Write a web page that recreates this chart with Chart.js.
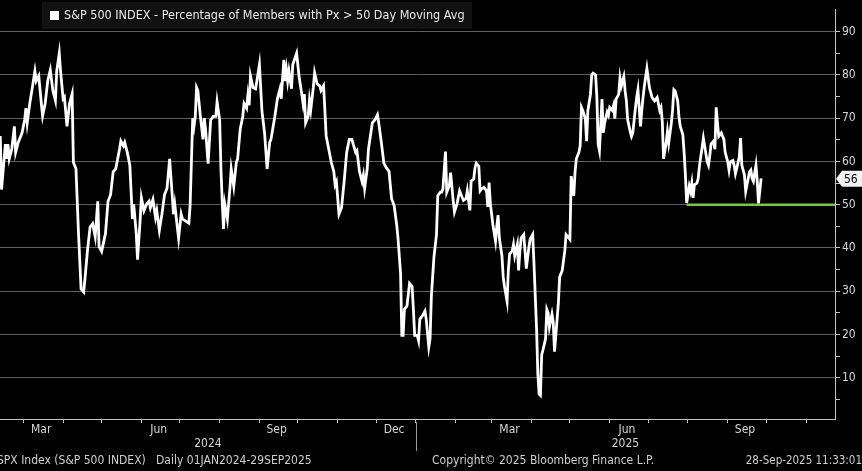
<!DOCTYPE html>
<html>
<head>
<meta charset="utf-8">
<script src="https://cdn.jsdelivr.net/npm/chart.js@4/dist/chart.umd.min.js"></script>
<style>
  html, body { margin: 0; padding: 0; background: #000; }
  canvas { display: block; }
</style>
</head>
<body>
<canvas id="chart" width="862" height="471"></canvas>
<script>
// days since 1 Jan 2024 and % of S&P 500 members above their 50-day moving average
const dayOffsets = [
  42, 43, 46, 47, 48, 49, 51, 53, 54, 56, 59, 61, 62, 63, 65, 67, 69, 70, 72, 74,
  75, 77, 79, 81, 83, 85, 86, 88, 89, 91, 92, 94, 96, 98, 99, 101, 103, 105, 107, 108,
  110, 112, 114, 116, 118, 119, 121, 124, 126, 128, 130, 132, 135, 136, 138, 139, 141, 143, 145, 146,
  148, 149, 151, 152, 154, 156, 158, 159, 161, 163, 164, 166, 168, 170, 172, 174, 176, 177, 178, 181,
  183, 184, 186, 189, 190, 192, 193, 194, 195, 196, 198, 200, 201, 202, 204, 206, 208, 210, 211, 213,
  214, 215, 216, 217, 219, 221, 222, 224, 226, 227, 229, 231, 232, 234, 235, 236, 237, 239, 241, 242,
  244, 246, 248, 250, 252, 253, 256, 258, 260, 261, 263, 264, 265, 266, 267, 269, 270, 273, 275, 277,
  278, 279, 280, 282, 283, 284, 286, 287, 289, 291, 292, 294, 295, 296, 298, 300, 302, 303, 304, 306,
  308, 310, 312, 314, 316, 319, 320, 322, 324, 325, 326, 328, 329, 332, 334, 336, 337, 339, 341, 343,
  345, 347, 349, 351, 352, 354, 355, 356, 357, 359, 361, 363, 364, 365, 367, 368, 369, 371, 373, 374,
  376, 377, 378, 380, 382, 383, 385, 386, 387, 389, 390, 392, 393, 395, 396, 398, 400, 402, 403, 405,
  406, 408, 409, 411, 412, 413, 415, 416, 417, 419, 421, 422, 423, 424, 426, 428, 429, 430, 431, 433,
  434, 435, 437, 438, 439, 441, 442, 443, 445, 446, 447, 448, 450, 451, 452, 454, 455, 457, 458, 460,
  461, 462, 463, 464, 465, 467, 468, 469, 470, 472, 473, 474, 476, 477, 478, 480, 482, 483, 486, 487,
  489, 490, 491, 493, 494, 495, 496, 498, 499, 500, 502, 503, 504, 506, 507, 508, 509, 511, 512, 513,
  515, 516, 517, 519, 520, 521, 522, 524, 525, 526, 528, 529, 530, 531, 533, 534, 535, 537, 538, 539,
  541, 542, 543, 544, 546, 547, 548, 550, 551, 552, 554, 556, 557, 558, 559, 561, 562, 563, 565, 566,
  567, 568, 570, 571, 572, 574, 575, 576, 577, 579, 580, 581, 582, 583, 585, 586, 587, 589, 590, 591,
  593, 594, 595, 596, 598, 599, 600, 601, 602, 604, 605, 606, 607, 609, 610, 611, 613, 614, 615, 616,
  618, 619, 620, 622, 623, 624, 626, 627, 628, 629, 631, 632, 633, 635
];
const pctAbove50d = [
  65.9, 53.5, 64, 60.6, 64, 60.6, 62.9, 68.1, 62.1, 64.4, 66.6, 69.6, 72.3, 68.9, 73.4, 77.1, 80.9, 78.6, 79.8, 73.4,
  70.5, 73.4, 78.6, 81.1, 76.4, 74.1, 80.9, 85, 80.9, 74.5, 74.9, 68.1, 73.4, 75.6, 59.8, 58.3, 43.3, 30.5, 29.8, 32.8,
  39.5, 44.8, 45.6, 42.6, 50.8, 40.3, 39.2, 43.3, 50.8, 52.3, 57.6, 58.3, 62.9, 64.7, 63.6, 64.4, 62.1, 59.1, 46.7, 50.1,
  43.3, 37.3, 46.3, 51.6, 48.6, 50.1, 50.8, 49.3, 51.2, 47.1, 48.6, 44.1, 47.8, 52.3, 53.8, 60.6, 52.3, 47.8, 50.1, 42.2,
  47.8, 46.7, 46.3, 45.7, 50, 70, 68.1, 70.4, 77.1, 76.4, 70.4, 65.1, 70, 67.4, 59.5, 69.6, 70.4, 70.4, 73.8, 69.6,
  58.3, 50.8, 44.4, 50.1, 46.7, 53.8, 58.3, 54.2, 59.8, 60.6, 67.4, 70.4, 73.4, 72.3, 75.3, 73, 79.8, 77.1, 76.8, 78.6,
  82.4, 71.5, 66.6, 58.3, 64.4, 65.1, 70.4, 74.5, 76.8, 74.5, 83.5, 78.6, 81.3, 78.6, 80.9, 76.8, 82.4, 85, 79.4, 75.6,
  73.4, 75.6, 68.9, 70.4, 74.1, 71.9, 77.1, 80.5, 77.9, 77.5, 76.4, 77.5, 71.9, 65.9, 62.9, 59.8, 57.6, 54.6, 55.3, 47.8,
  49.3, 55.3, 62.1, 65.1, 65.1, 62.1, 62.5, 57.6, 55.3, 56.8, 53.8, 58.3, 62.9, 68.9, 69.6, 70.8, 68.9, 64.4, 59.6, 58.5,
  57.7, 51.4, 49.8, 45.3, 42.3, 34.1, 19.8, 19.8, 25.8, 26.6, 31.8, 31.1, 25.8, 19.8, 19.8, 18.6, 23.5, 24.3, 25.4, 23.5,
  17.1, 19.0, 28.8, 37.8, 43.1, 52.1, 52.9, 52.9, 53.6, 62.3, 52.9, 54.4, 57.4, 51, 48.3, 50.2, 53.2, 51.7, 51, 51.4,
  53.2, 48.7, 55.5, 55.9, 58.5, 59.6, 58.9, 53.2, 53.6, 54, 53.2, 49.5, 55.1, 50.2, 45.3, 41.6, 45.0, 47.6, 42.3, 38.2,
  33.3, 31.1, 27.7, 34.8, 38.6, 39.3, 40.8, 38.2, 40.8, 34.8, 39.3, 42.3, 43.1, 39.3, 35.2, 40.1, 42.0, 43.1, 36.3, 21.3,
  10.8, 6.2, 5.9, 15.3, 16.4, 19.0, 25.8, 25, 21.7, 24.7, 22.8, 16.0, 23.5, 27.3, 33.3, 34.8, 39.3, 43.1, 42, 56.6,
  52, 57.6, 60.6, 62.1, 63.6, 72.5, 71.8, 69.9, 64.7, 71.8, 75.5, 80, 80.4, 80, 74.8, 64, 62.5, 74.4, 66.6, 68.8,
  71.4, 70.7, 72.5, 71.8, 72.9, 69.9, 74.4, 75.5, 79.3, 77.4, 79.6, 76.3, 74.0, 69.6, 66.9, 65.8, 66.6, 72.2, 74.8, 76.6,
  68.1, 71.8, 74.8, 77.4, 81.5, 79.3, 77, 74.8, 74.4, 74, 74.8, 71.8, 72.5, 69.2, 60.6, 64.3, 66.9, 64.3, 68.8, 71.8,
  76.6, 76.3, 74, 70.3, 68.1, 66.2, 62.1, 56.9, 50.4, 54.3, 53.1, 55.0, 51.6, 54.6, 55, 56.1, 59.1, 63.2, 65.4, 63.6,
  59.9, 59.1, 61.3, 64, 64.7, 62.8, 72.5, 68.8, 65.8, 66.6, 65.8, 65.1, 62.1, 59.9, 58, 59.9, 60.2, 59.1, 57.2, 58.4,
  61, 65.4, 59.1, 56.9, 53.1, 54.6, 57.6, 58, 56.1, 55.4, 59.1, 55.4, 50.3, 56.1
];

const supportLevel = 50;
const supportFromDay = 577;
const lastValue = 56;

const firstDay = 41.8;   // left edge of the visible window
const lastDay = 692.6;   // right edge (axis runs past the last print)
const yMin = 0.45;
const yMax = 95.2;
const yTickValues = [5, 10, 15, 20, 25, 30, 35, 40, 45, 50, 55, 60, 65, 70, 75, 80, 85, 90];

const quarterLabels = ["Mar", "Jun", "Sep", "Dec", "Mar", "Jun", "Sep"];
const quarterMonths = ["2024-03", "2024-06", "2024-09", "2024-12", "2025-03", "2025-06", "2025-09"];
const yearLabels = ["2024", "2025"];
const yearStarts = ["2024-01-01", "2025-01-01"];

const legendText = "S&P 500 INDEX - Percentage of Members with Px > 50 Day Moving Avg";
const footerLeft = "SPX Index (S&P 500 INDEX)   Daily 01JAN2024-29SEP2025";
const footerMid = "Copyright\u00a9 2025 Bloomberg Finance L.P.";
const footerRight = "28-Sep-2025 11:33:01";

const FONT = '"DejaVu Sans Condensed", "Liberation Sans Narrow", "DejaVu Sans", sans-serif';
const AXIS = "#c4c4c4";
const GRID = "#5e5e5e";
const LABEL = "#d6d6d6";

const dayOf = (iso) => (Date.parse(iso) - Date.parse("2024-01-01")) / 86400000;
const daysInMonth = (iso) => {
  const [y, m] = iso.split("-").map(Number);
  return new Date(Date.UTC(y, m, 0)).getUTCDate();
};

function monthStarts() {
  const out = [];
  for (let y = 2024; y <= 2025; y++) {
    for (let m = 0; m < 12; m++) {
      const d = (Date.UTC(y, m, 1) - Date.UTC(2024, 0, 1)) / 86400000;
      if (d > firstDay && d < lastDay) out.push(d);
    }
  }
  return out;
}

const decorations = {
  id: "decorations",
  afterDraw(chart) {
    const { ctx, chartArea, scales } = chart;
    const x = scales.x;
    const y = scales.y;
    ctx.save();

    // legend box
    ctx.fillStyle = "#111111";
    ctx.fillRect(42, 2, 430, 27);
    ctx.fillStyle = "#ffffff";
    ctx.fillRect(50, 11, 9, 9);
    ctx.fillStyle = "#e8e8e8";
    ctx.font = `12.5px ${FONT}`;
    ctx.textBaseline = "middle";
    ctx.textAlign = "left";
    ctx.fillText(legendText, 64, 16);

    // last value tag
    const py = y.getPixelForValue(lastValue);
    ctx.fillStyle = "#f2f2f2";
    ctx.beginPath();
    ctx.moveTo(chartArea.right + 1, py);
    ctx.lineTo(chartArea.right + 7, py - 8);
    ctx.lineTo(862, py - 8);
    ctx.lineTo(862, py + 8);
    ctx.lineTo(chartArea.right + 7, py + 8);
    ctx.closePath();
    ctx.fill();
    ctx.fillStyle = "#000";
    ctx.font = `12px ${FONT}`;
    ctx.fillText(String(lastValue), chartArea.right + 9, py + 1);

    // month labels, centred in their month
    ctx.fillStyle = LABEL;
    ctx.textAlign = "center";
    quarterMonths.forEach((m, i) => {
      const mid = dayOf(m + "-01") + daysInMonth(m) / 2;
      ctx.fillText(quarterLabels[i], x.getPixelForValue(mid) - 2, 430);
    });

    // year labels and divider
    const starts = yearStarts.map((d) => Math.max(x.getPixelForValue(dayOf(d)), chartArea.left));
    const ends = [starts[1], chartArea.right];
    yearLabels.forEach((label, i) => ctx.fillText(label, (starts[i] + ends[i]) / 2, 444));
    ctx.strokeStyle = "#9a9a9a";
    ctx.lineWidth = 1;
    ctx.beginPath();
    ctx.moveTo(Math.round(starts[1]) + 0.5, chartArea.bottom + 3);
    ctx.lineTo(Math.round(starts[1]) + 0.5, 451);
    ctx.stroke();

    // footer
    ctx.fillStyle = "#cfcfcf";
    ctx.font = `12px ${FONT}`;
    ctx.textAlign = "left";
    ctx.fillText(footerLeft, -3, 461);
    ctx.fillText(footerMid, 432, 461);
    ctx.textAlign = "right";
    ctx.font = `11.5px ${FONT}`;
    ctx.fillText(footerRight, 862, 461);
    ctx.restore();
  }
};

new Chart(document.getElementById("chart"), {
  type: "line",
  data: {
    datasets: [
      {
        label: legendText,
        data: dayOffsets.map((d, i) => ({ x: d, y: pctAbove50d[i] })),
        borderColor: "#ffffff",
        borderWidth: 2.8,
        pointRadius: 0,
        tension: 0,
        order: 1
      },
      {
        label: "support",
        data: [{ x: supportFromDay, y: supportLevel }, { x: lastDay, y: supportLevel }],
        borderColor: "#7cc73a",
        borderWidth: 2.6,
        pointRadius: 0,
        order: 2
      }
    ]
  },
  options: {
    responsive: false,
    animation: false,
    devicePixelRatio: 1,
    layout: { padding: 0 },
    plugins: { legend: { display: false }, tooltip: { enabled: false } },
    scales: {
      x: {
        type: "linear",
        min: firstDay,
        max: lastDay,
        afterBuildTicks: (s) => { s.ticks = monthStarts().map((v) => ({ value: v })); },
        afterFit: (s) => { s.height = 52; },
        ticks: { display: false },
        grid: { drawOnChartArea: false, color: AXIS, tickLength: 4 },
        border: { color: AXIS }
      },
      y: {
        position: "right",
        min: yMin,
        max: yMax,
        afterBuildTicks: (s) => { s.ticks = yTickValues.map((v) => ({ value: v })); },
        afterFit: (s) => { s.width = 27; },
        ticks: {
          color: LABEL,
          font: { family: FONT, size: 12 },
          padding: 2,
          callback: (v) => (v % 10 === 0 ? v : "")
        },
        grid: {
          color: (c) => (c.tick && c.tick.value % 10 === 0 ? GRID : "rgba(0,0,0,0)"),
          tickColor: AXIS,
          tickLength: 5
        },
        border: { color: AXIS }
      }
    }
  },
  plugins: [decorations]
});
</script>
</body>
</html>
